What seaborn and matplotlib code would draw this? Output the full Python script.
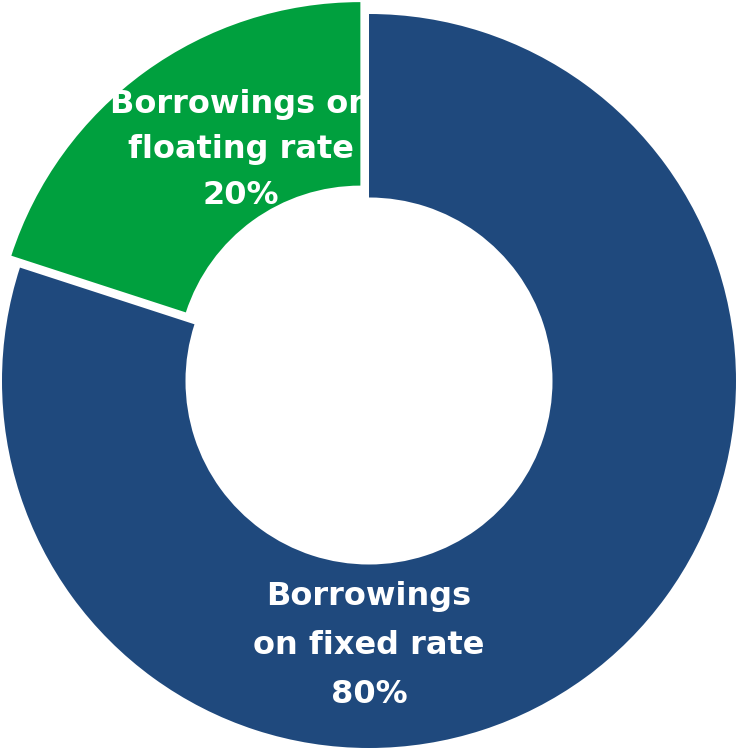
import numpy as np
import matplotlib
matplotlib.use("Agg")
import matplotlib.pyplot as plt
import seaborn as sns

categories = ["Borrowings on fixed rate", "Borrowings on floating rate"]
labels = ["Borrowings\non fixed rate\n80%", "Borrowings on\nfloating rate\n20%"]
values = [80, 20]
colors = ["#1F497D", "#00A03E"]
explode = [0.0, 0.04]

sns.set_theme(style="white")
plt.rcParams['font.family'] = ['DejaVu Sans']

W, H, dpi = 739, 751, 100
fig = plt.figure(figsize=(W / dpi, H / dpi), dpi=dpi)
ax = fig.add_axes([0, 0, 1, 1])
R = 367.0
cx, cy = 369.0, 381.0

wedges, _ = ax.pie(values, colors=colors, startangle=90, counterclock=False,
                   explode=explode, radius=1.0,
                   wedgeprops=dict(width=0.5, linewidth=0), frame=False)
ax.set_xlim(-cx / R, (W - cx) / R)
ax.set_ylim(-(H - cy) / R, cy / R)
ax.set_aspect('equal')
ax.axis('off')

# label positions (polar, radius fraction, angle in degrees)
label_pos = [(0.72, -90.0), (0.72, 119.0)]
spacings = [1.75, 1.6]
for i, (r, ang) in enumerate(label_pos):
    a = np.deg2rad(ang)
    x = r * np.cos(a)
    y = r * np.sin(a)
    ax.text(x, y, labels[i], ha='center', va='center', color='white',
            fontsize=23, fontweight='bold', linespacing=spacings[i])

fig.savefig("out.png", dpi=dpi)
